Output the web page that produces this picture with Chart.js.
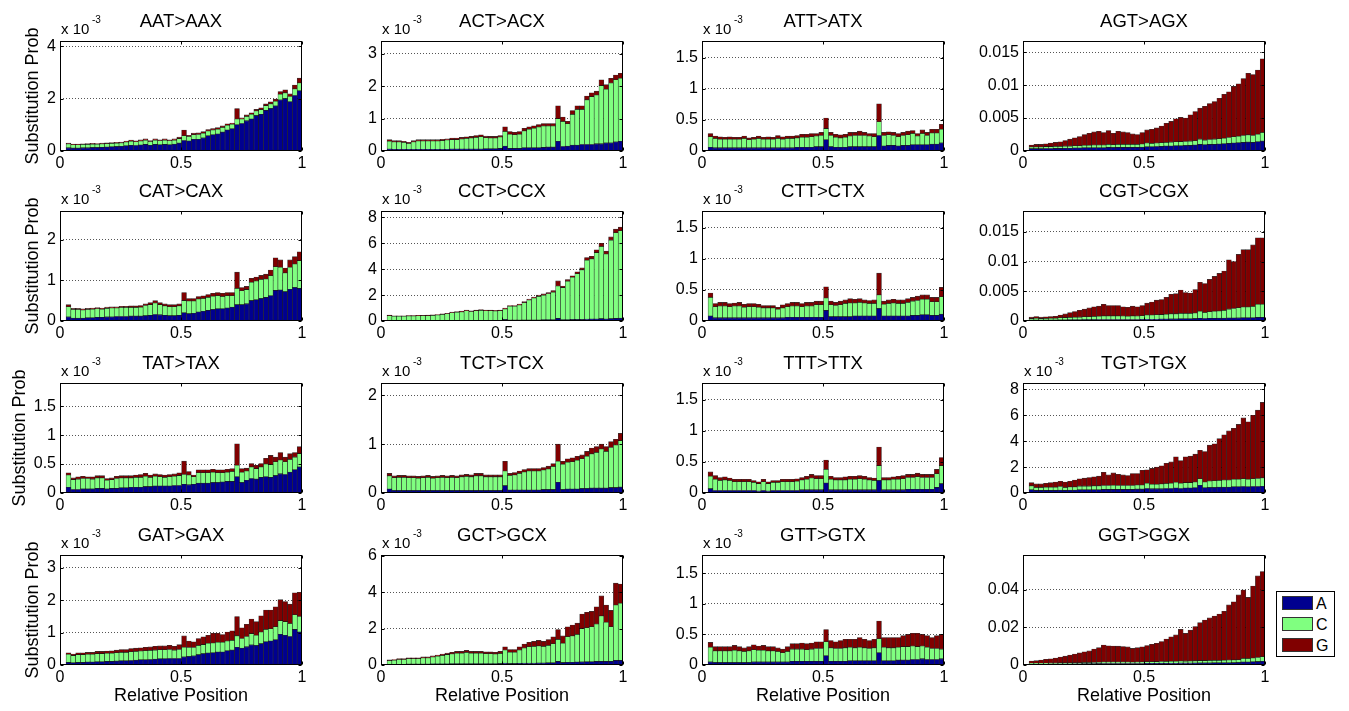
<!DOCTYPE html>
<html lang="en">
<head>
  <meta charset="UTF-8">
  <title>Substitution probability by relative position</title>
  <script src="https://cdn.jsdelivr.net/npm/chart.js"></script>
  <style>
    body { margin: 0; background: #fff; font-family: "Liberation Sans", Arial, sans-serif; color: #000; }
    #page { position: relative; width: 1349px; height: 711px; overflow: hidden; background: #fff; }
    #page canvas { position: absolute; }
    .title { position: absolute; width: 242px; text-align: center; font-size: 18.5px; line-height: 20px; white-space: nowrap; }
    .expo { position: absolute; font-size: 15px; line-height: 16px; white-space: nowrap; }
    .expo sup { position: absolute; left: 31px; top: -9px; font-size: 10px; }
    .ylab { position: absolute; width: 200px; text-align: center; font-size: 18px; line-height: 20px;
            transform: translate(-50%, -50%) rotate(-90deg); white-space: nowrap; }
    .xlab { position: absolute; width: 242px; text-align: center; font-size: 18px; line-height: 20px; }
    #legend { position: absolute; left: 1276px; top: 591px; width: 57px; height: 64px; border: 1px solid #000; background: #fff; }
    #legend div { position: absolute; left: 5px; height: 15px; font-size: 16px; line-height: 15px; }
    #legend span.sw { display: inline-block; width: 31px; height: 14px; border: 1px solid #333; vertical-align: top; margin-right: 3px; box-sizing: border-box; }
  </style>
</head>
<body>
<div id="page"></div>

<script>
// bar centres along the read (relative position), 49 bins
const positions = Array.from({ length: 49 }, (_, i) => +(0.035 + 0.0199 * i).toFixed(4));
const xTickValues = [0, 0.5, 1];
const baseLabels = ["A", "C", "G"];
const baseColors = ["#00008f", "#80ff80", "#800000"];

// values in units of 1e-3
const aatA = [0.12,0.11,0.11,0.12,0.12,0.13,0.13,0.14,0.15,0.16,0.17,0.18, 0.20,0.22,0.21,0.23,0.25,0.22,0.25,0.24,0.25,0.24,0.26,0.30, 0.40, 0.38,0.45,0.45,0.50,0.58,0.62,0.65,0.72,0.80,0.85, 1.00, 1.05,1.15,1.22,1.35,1.40,1.55,1.62,1.72,1.95,2.00,1.88,2.12,2.30];
const aatC = [0.15,0.13,0.13,0.13,0.13,0.13,0.13,0.13,0.13,0.13,0.13,0.13, 0.14,0.15,0.14,0.15,0.16,0.14,0.16,0.15,0.16,0.15,0.15,0.17, 0.18, 0.17,0.17,0.18,0.18,0.18,0.18,0.18,0.18,0.18,0.17, 0.22, 0.17,0.17,0.18,0.18,0.18,0.18,0.18,0.18,0.22,0.22,0.20,0.25,0.30];
const aatG = [0.03,0.02,0.02,0.02,0.03,0.03,0.02,0.03,0.03,0.03,0.03,0.03, 0.04,0.05,0.04,0.05,0.05,0.04,0.05,0.04,0.05,0.04,0.05,0.06, 0.22, 0.05,0.06,0.06,0.06,0.06,0.06,0.06,0.06,0.06,0.05, 0.40, 0.05,0.06,0.06,0.06,0.07,0.07,0.08,0.08,0.10,0.12,0.10,0.15,0.18];

const actA = [0.06,0.05,0.05,0.05,0.05,0.05,0.05,0.05,0.05,0.05,0.05,0.05, 0.05,0.06,0.06,0.06,0.06,0.06,0.06,0.06,0.07,0.07,0.07,0.08, 0.15, 0.08,0.08,0.08,0.10,0.10,0.10,0.10,0.11,0.12,0.12, 0.30, 0.14,0.15,0.18,0.18,0.20,0.20,0.20,0.22,0.22,0.25,0.25,0.28,0.30];
const actC = [0.24,0.23,0.23,0.21,0.18,0.23,0.26,0.26,0.26,0.26,0.26,0.27, 0.29,0.29,0.29,0.31,0.33,0.34,0.36,0.38,0.34,0.33,0.33,0.35, 0.45, 0.44,0.42,0.44,0.52,0.57,0.60,0.64,0.66,0.65,0.65, 0.70, 0.77,0.69,0.95,1.10,1.08,1.38,1.48,1.51,1.80,1.66,1.85,1.92,1.95];
const actG = [0.05,0.04,0.04,0.04,0.04,0.04,0.04,0.04,0.04,0.04,0.04,0.04, 0.04,0.05,0.05,0.05,0.05,0.05,0.06,0.06,0.05,0.05,0.05,0.05, 0.15, 0.08,0.08,0.08,0.08,0.08,0.08,0.08,0.08,0.08,0.08, 0.40, 0.14,0.08,0.12,0.12,0.12,0.12,0.12,0.12,0.18,0.14,0.15,0.15,0.15];

const attA = [0.06,0.05,0.05,0.05,0.05,0.05,0.05,0.05,0.05,0.05,0.05,0.05, 0.05,0.05,0.05,0.05,0.05,0.05,0.06,0.06,0.06,0.06,0.07,0.07, 0.18, 0.07,0.06,0.06,0.06,0.07,0.07,0.07,0.07,0.07,0.07, 0.25, 0.08,0.09,0.09,0.08,0.09,0.09,0.10,0.10,0.10,0.10,0.11,0.11,0.13];
const attC = [0.17,0.15,0.14,0.14,0.14,0.14,0.14,0.15,0.13,0.14,0.15,0.14, 0.14,0.14,0.15,0.14,0.15,0.15,0.15,0.16,0.16,0.17,0.17,0.18, 0.18, 0.18,0.16,0.15,0.16,0.17,0.18,0.18,0.18,0.17,0.16, 0.22, 0.17,0.17,0.16,0.15,0.16,0.17,0.18,0.14,0.18,0.15,0.18,0.18,0.22];
const attG = [0.05,0.04,0.04,0.03,0.04,0.03,0.03,0.04,0.03,0.03,0.04,0.03, 0.04,0.03,0.05,0.04,0.04,0.04,0.04,0.05,0.05,0.05,0.04,0.05, 0.17, 0.05,0.05,0.05,0.05,0.06,0.05,0.07,0.05,0.04,0.05, 0.29, 0.05,0.05,0.05,0.05,0.05,0.06,0.05,0.04,0.06,0.05,0.06,0.06,0.08];

const agtA = [0.35,0.35,0.35,0.38,0.38,0.40,0.40,0.42,0.42,0.45,0.45,0.48, 0.48,0.50,0.50,0.50,0.55,0.52,0.55,0.55,0.55,0.55,0.55,0.58, 0.65, 0.65,0.68,0.70,0.75,0.75,0.80,0.80,0.82,0.85,0.90, 1.00, 0.95,1.00,1.00,1.05,1.10,1.15,1.20,1.25,1.30,1.35,1.30,1.40,1.50];
const agtC = [0.25,0.25,0.25,0.28,0.28,0.30,0.30,0.32,0.32,0.35,0.35,0.38, 0.38,0.40,0.40,0.40,0.45,0.42,0.45,0.45,0.45,0.45,0.45,0.48, 0.55, 0.50,0.52,0.55,0.55,0.60,0.60,0.62,0.62,0.65,0.65, 0.80, 0.70,0.75,0.80,0.80,0.85,0.90,0.95,1.00,1.05,1.10,1.05,1.15,1.30];
const agtG = [0.30,0.40,0.40,0.44,0.54,0.60,0.70,0.86,1.06,1.20,1.40,1.64, 1.84,2.00,2.10,1.90,2.10,1.76,2.00,1.90,1.80,1.60,1.50,1.74, 2.00, 2.15,2.30,2.55,2.90,3.15,3.50,3.68,3.56,4.00,4.45, 4.70, 5.15,5.45,5.70,6.15,6.65,6.95,7.65,7.95,8.65,9.35,9.25,9.75,11.20];

const catA = [0.10,0.07,0.07,0.07,0.08,0.08,0.09,0.09,0.10,0.10,0.11,0.11, 0.11,0.12,0.12,0.12,0.13,0.14,0.16,0.15,0.14,0.13,0.13,0.14, 0.20, 0.18,0.19,0.22,0.24,0.26,0.28,0.30,0.30,0.32,0.34, 0.40, 0.40,0.42,0.50,0.52,0.55,0.58,0.62,0.75,0.76,0.72,0.78,0.82,0.80];
const catC = [0.25,0.21,0.21,0.20,0.20,0.21,0.21,0.20,0.21,0.22,0.21,0.22, 0.22,0.21,0.21,0.22,0.25,0.26,0.28,0.25,0.23,0.22,0.22,0.23, 0.30, 0.31,0.30,0.32,0.31,0.32,0.33,0.32,0.30,0.30,0.28, 0.40, 0.34,0.35,0.45,0.46,0.47,0.45,0.49,0.58,0.56,0.46,0.54,0.58,0.68];
const catG = [0.05,0.03,0.03,0.03,0.03,0.03,0.03,0.03,0.03,0.03,0.03,0.03, 0.03,0.04,0.04,0.04,0.04,0.05,0.06,0.05,0.05,0.05,0.05,0.05, 0.20, 0.06,0.06,0.06,0.07,0.07,0.07,0.08,0.08,0.08,0.08, 0.40, 0.08,0.08,0.10,0.10,0.10,0.12,0.14,0.22,0.18,0.12,0.18,0.18,0.22];

const cctA = [0.05,0.04,0.04,0.04,0.04,0.04,0.04,0.04,0.04,0.04,0.05,0.05, 0.05,0.05,0.05,0.05,0.06,0.05,0.05,0.06,0.06,0.06,0.06,0.06, 0.12, 0.07,0.07,0.07,0.08,0.08,0.08,0.08,0.09,0.09,0.10, 0.20, 0.10,0.10,0.12,0.12,0.12,0.14,0.15,0.15,0.18,0.15,0.18,0.20,0.22];
const cctC = [0.36,0.33,0.33,0.33,0.35,0.35,0.36,0.37,0.37,0.39,0.41,0.46, 0.51,0.58,0.62,0.65,0.73,0.68,0.75,0.76,0.73,0.74,0.71,0.74, 0.80, 1.07,1.07,1.16,1.34,1.54,1.69,1.82,1.91,2.01,2.13, 2.50, 2.48,2.98,3.26,3.53,3.83,4.56,4.65,5.13,5.57,5.03,6.07,6.62,6.75];
const cctG = [0.04,0.03,0.03,0.03,0.03,0.03,0.03,0.03,0.04,0.04,0.04,0.04, 0.04,0.05,0.05,0.06,0.06,0.05,0.05,0.06,0.06,0.05,0.05,0.05, 0.08, 0.06,0.06,0.07,0.08,0.08,0.08,0.10,0.10,0.10,0.12, 0.40, 0.12,0.12,0.12,0.15,0.15,0.20,0.20,0.22,0.25,0.22,0.25,0.28,0.28];

const cttA = [0.08,0.05,0.05,0.05,0.05,0.05,0.05,0.05,0.05,0.05,0.05,0.05, 0.05,0.05,0.05,0.05,0.06,0.06,0.06,0.06,0.06,0.06,0.06,0.06, 0.17, 0.07,0.07,0.07,0.07,0.07,0.08,0.08,0.08,0.08,0.08, 0.20, 0.08,0.08,0.08,0.08,0.08,0.08,0.09,0.09,0.10,0.10,0.09,0.09,0.11];
const cttC = [0.30,0.18,0.19,0.19,0.18,0.19,0.19,0.17,0.18,0.18,0.17,0.16, 0.16,0.16,0.14,0.16,0.17,0.18,0.18,0.17,0.18,0.18,0.20,0.20, 0.20, 0.19,0.18,0.19,0.21,0.22,0.21,0.22,0.21,0.20,0.20, 0.22, 0.19,0.20,0.21,0.20,0.20,0.22,0.23,0.24,0.25,0.25,0.22,0.22,0.28];
const cttG = [0.07,0.05,0.06,0.06,0.05,0.05,0.06,0.05,0.05,0.05,0.05,0.04, 0.04,0.04,0.03,0.05,0.05,0.06,0.06,0.05,0.06,0.06,0.06,0.06, 0.18, 0.06,0.05,0.06,0.06,0.07,0.06,0.06,0.05,0.05,0.06, 0.35, 0.05,0.06,0.06,0.06,0.06,0.06,0.06,0.07,0.07,0.07,0.07,0.07,0.15];

const cgtA = [0.15,0.15,0.15,0.15,0.15,0.15,0.18,0.18,0.20,0.20,0.20,0.22, 0.22,0.22,0.25,0.25,0.25,0.25,0.25,0.25,0.25,0.25,0.25,0.28, 0.30, 0.30,0.30,0.32,0.32,0.35,0.35,0.38,0.38,0.38,0.40, 0.45, 0.42,0.45,0.45,0.48,0.48,0.50,0.50,0.52,0.55,0.55,0.55,0.60,0.60];
const cgtC = [0.25,0.30,0.25,0.28,0.30,0.30,0.35,0.38,0.40,0.42,0.45,0.48, 0.50,0.55,0.55,0.60,0.60,0.60,0.60,0.58,0.55,0.60,0.58,0.60, 0.70, 0.70,0.75,0.75,0.80,0.85,0.85,0.90,0.90,0.90,0.95, 1.20, 1.00,1.10,1.20,1.20,1.30,1.50,1.60,1.70,1.80,1.80,1.90,2.20,2.20];
const cgtG = [0.25,0.30,0.25,0.27,0.30,0.35,0.47,0.64,0.80,0.98,1.15,1.30, 1.48,1.63,1.70,1.95,1.75,1.75,1.75,1.57,1.50,1.65,1.57,1.72, 2.00, 2.20,2.45,2.53,2.88,3.30,3.40,3.92,3.52,3.42,3.95, 4.85, 4.88,5.45,5.85,6.32,6.62,8.30,7.90,8.98,9.65,9.65,10.35,11.20,11.20];

const tatA = [0.10,0.06,0.06,0.07,0.07,0.07,0.08,0.08,0.07,0.08,0.08,0.09, 0.09,0.10,0.10,0.10,0.11,0.11,0.12,0.12,0.12,0.12,0.13,0.13, 0.15, 0.14,0.15,0.17,0.17,0.17,0.18,0.18,0.19,0.20,0.20, 0.28, 0.18,0.22,0.25,0.24,0.27,0.28,0.27,0.30,0.33,0.32,0.36,0.40,0.45];
const tatC = [0.21,0.17,0.18,0.18,0.18,0.17,0.18,0.18,0.15,0.15,0.17,0.17, 0.17,0.16,0.17,0.17,0.18,0.16,0.17,0.16,0.15,0.16,0.16,0.17, 0.17, 0.17,0.13,0.18,0.18,0.18,0.18,0.17,0.16,0.16,0.17, 0.20, 0.18,0.16,0.20,0.18,0.18,0.22,0.22,0.24,0.24,0.22,0.22,0.22,0.23];
const tatG = [0.04,0.03,0.04,0.04,0.03,0.04,0.04,0.04,0.03,0.03,0.04,0.04, 0.04,0.04,0.04,0.05,0.05,0.04,0.04,0.04,0.04,0.04,0.04,0.05, 0.23, 0.06,0.03,0.05,0.05,0.05,0.05,0.05,0.05,0.05,0.05, 0.37, 0.06,0.05,0.06,0.06,0.06,0.10,0.16,0.08,0.13,0.08,0.10,0.08,0.12];

const tctA = [0.08,0.05,0.05,0.05,0.05,0.05,0.05,0.05,0.05,0.05,0.05,0.05, 0.05,0.05,0.05,0.05,0.05,0.05,0.05,0.05,0.05,0.05,0.05,0.05, 0.15, 0.06,0.06,0.06,0.06,0.06,0.06,0.06,0.07,0.07,0.07, 0.22, 0.07,0.08,0.08,0.08,0.09,0.09,0.10,0.10,0.10,0.10,0.11,0.11,0.12];
const tctC = [0.27,0.26,0.27,0.27,0.26,0.26,0.25,0.26,0.27,0.25,0.26,0.27, 0.26,0.27,0.26,0.28,0.29,0.28,0.30,0.30,0.28,0.28,0.28,0.28, 0.30, 0.30,0.31,0.34,0.37,0.39,0.39,0.39,0.40,0.42,0.47, 0.43, 0.52,0.55,0.56,0.59,0.61,0.66,0.70,0.73,0.80,0.75,0.82,0.87,0.95];
const tctG = [0.05,0.04,0.04,0.04,0.04,0.04,0.04,0.04,0.04,0.04,0.04,0.04, 0.04,0.04,0.04,0.04,0.04,0.04,0.05,0.05,0.04,0.04,0.04,0.04, 0.20, 0.04,0.05,0.05,0.05,0.05,0.05,0.05,0.05,0.06,0.06, 0.35, 0.06,0.07,0.08,0.08,0.08,0.10,0.12,0.12,0.10,0.10,0.12,0.12,0.15];

const tttA = [0.07,0.04,0.04,0.04,0.04,0.04,0.04,0.04,0.04,0.04,0.03,0.04, 0.03,0.04,0.04,0.04,0.04,0.04,0.04,0.05,0.05,0.05,0.05,0.05, 0.16, 0.05,0.05,0.05,0.05,0.05,0.05,0.05,0.05,0.05,0.05, 0.20, 0.05,0.05,0.05,0.05,0.05,0.06,0.06,0.06,0.06,0.06,0.06,0.09,0.15];
const tttC = [0.20,0.18,0.16,0.17,0.16,0.14,0.14,0.14,0.14,0.13,0.12,0.14, 0.12,0.13,0.13,0.14,0.14,0.14,0.15,0.16,0.17,0.19,0.18,0.18, 0.22, 0.17,0.16,0.16,0.16,0.17,0.17,0.18,0.17,0.16,0.15, 0.24, 0.16,0.16,0.17,0.17,0.18,0.19,0.19,0.20,0.19,0.19,0.19,0.22,0.29];
const tttG = [0.07,0.06,0.05,0.05,0.04,0.04,0.04,0.04,0.04,0.03,0.03,0.04, 0.03,0.03,0.03,0.04,0.04,0.04,0.04,0.04,0.05,0.06,0.05,0.05, 0.15, 0.05,0.04,0.04,0.05,0.05,0.05,0.05,0.05,0.04,0.04, 0.30, 0.04,0.04,0.04,0.05,0.05,0.05,0.05,0.06,0.05,0.05,0.05,0.07,0.13];

const tgtA = [0.25,0.20,0.20,0.20,0.20,0.20,0.22,0.20,0.22,0.22,0.25,0.25, 0.25,0.25,0.25,0.28,0.28,0.28,0.28,0.28,0.28,0.28,0.30,0.30, 0.35, 0.32,0.32,0.32,0.35,0.35,0.38,0.35,0.38,0.38,0.40, 0.60, 0.40,0.42,0.42,0.45,0.45,0.45,0.48,0.48,0.50,0.48,0.50,0.50,0.52];
const tgtC = [0.30,0.22,0.22,0.25,0.25,0.25,0.28,0.22,0.25,0.25,0.28,0.28, 0.28,0.30,0.30,0.30,0.30,0.32,0.30,0.30,0.30,0.30,0.32,0.32, 0.40, 0.35,0.35,0.38,0.38,0.40,0.45,0.40,0.42,0.42,0.45, 0.50, 0.45,0.50,0.52,0.52,0.55,0.55,0.58,0.58,0.60,0.58,0.60,0.62,0.65];
const tgtG = [0.25,0.28,0.28,0.30,0.35,0.40,0.40,0.43,0.43,0.53,0.57,0.62, 0.67,0.70,0.75,1.02,0.82,0.95,0.87,0.82,0.77,0.92,0.88,1.13, 1.05, 1.23,1.33,1.40,1.57,1.65,1.97,1.75,2.00,2.05,2.15, 2.20, 2.35,2.78,2.86,3.23,3.50,3.80,3.94,4.24,4.70,4.44,4.90,5.28,5.83];

const gatA = [0.08,0.07,0.08,0.08,0.09,0.09,0.10,0.10,0.11,0.11,0.12,0.13, 0.13,0.14,0.15,0.16,0.16,0.17,0.18,0.19,0.19,0.20,0.20,0.20, 0.25, 0.26,0.28,0.32,0.35,0.37,0.38,0.40,0.40,0.44,0.46, 0.55, 0.52,0.56,0.62,0.60,0.66,0.72,0.74,0.78,0.95,0.92,0.88,1.10,1.02];
const gatC = [0.25,0.22,0.24,0.24,0.24,0.24,0.25,0.25,0.25,0.25,0.26,0.26, 0.26,0.27,0.27,0.27,0.28,0.28,0.28,0.28,0.28,0.28,0.26,0.28, 0.30, 0.28,0.26,0.28,0.28,0.30,0.30,0.30,0.30,0.30,0.30, 0.35, 0.30,0.32,0.35,0.32,0.36,0.38,0.38,0.40,0.42,0.42,0.40,0.45,0.48];
const gatG = [0.05,0.05,0.06,0.06,0.06,0.06,0.07,0.07,0.07,0.08,0.08,0.09, 0.09,0.10,0.10,0.10,0.11,0.11,0.12,0.12,0.12,0.13,0.12,0.15, 0.35, 0.20,0.18,0.22,0.24,0.25,0.30,0.28,0.24,0.28,0.30, 0.60, 0.33,0.38,0.45,0.42,0.50,0.60,0.58,0.62,0.65,0.62,0.60,0.68,0.75];

const gctA = [0.04,0.04,0.04,0.04,0.05,0.05,0.05,0.05,0.05,0.06,0.06,0.06, 0.06,0.07,0.07,0.07,0.07,0.07,0.07,0.07,0.07,0.07,0.07,0.08, 0.10, 0.08,0.08,0.09,0.10,0.10,0.10,0.11,0.11,0.12,0.12, 0.20, 0.13,0.15,0.15,0.16,0.17,0.18,0.18,0.20,0.20,0.20,0.20,0.25,0.25];
const gctC = [0.20,0.22,0.26,0.26,0.30,0.30,0.30,0.34,0.34,0.38,0.42,0.46, 0.51,0.54,0.58,0.58,0.62,0.58,0.58,0.58,0.55,0.55,0.53,0.55, 0.72, 0.62,0.62,0.73,0.83,0.90,0.92,0.94,0.91,0.96,1.05, 1.20, 1.07,1.40,1.45,1.52,1.83,1.87,1.92,2.05,2.50,2.15,1.90,3.05,3.15];
const gctG = [0.04,0.04,0.05,0.05,0.05,0.05,0.05,0.06,0.06,0.06,0.07,0.08, 0.08,0.09,0.10,0.10,0.11,0.10,0.10,0.10,0.10,0.10,0.10,0.12, 0.18, 0.15,0.15,0.18,0.22,0.25,0.28,0.30,0.28,0.32,0.38, 0.55, 0.40,0.55,0.60,0.62,0.80,0.85,0.85,0.95,1.10,0.95,0.90,1.20,1.05];

const gttA = [0.05,0.04,0.04,0.04,0.04,0.04,0.04,0.04,0.04,0.05,0.05,0.05, 0.05,0.05,0.05,0.05,0.05,0.06,0.06,0.06,0.06,0.06,0.06,0.06, 0.15, 0.06,0.06,0.06,0.06,0.07,0.07,0.07,0.07,0.07,0.07, 0.20, 0.07,0.07,0.07,0.08,0.08,0.08,0.09,0.09,0.10,0.09,0.09,0.09,0.10];
const gttC = [0.24,0.19,0.19,0.19,0.19,0.20,0.19,0.18,0.19,0.20,0.19,0.19, 0.18,0.18,0.17,0.15,0.17,0.20,0.20,0.20,0.19,0.20,0.21,0.21, 0.23, 0.22,0.21,0.21,0.22,0.22,0.21,0.22,0.21,0.20,0.21, 0.23, 0.22,0.21,0.21,0.21,0.22,0.22,0.22,0.21,0.21,0.20,0.18,0.18,0.16];
const gttG = [0.08,0.07,0.07,0.07,0.07,0.08,0.07,0.06,0.07,0.08,0.07,0.08, 0.07,0.07,0.06,0.06,0.08,0.09,0.09,0.10,0.10,0.10,0.11,0.11, 0.20, 0.12,0.11,0.13,0.14,0.13,0.14,0.16,0.14,0.13,0.14, 0.29, 0.16,0.17,0.17,0.16,0.18,0.20,0.21,0.22,0.19,0.19,0.18,0.21,0.24];

const ggtA = [0.50,0.50,0.50,0.50,0.55,0.55,0.60,0.60,0.60,0.65,0.65,0.70, 0.70,0.70,0.75,0.80,0.80,0.80,0.80,0.80,0.80,0.80,0.80,0.80, 0.85, 0.85,0.85,0.90,0.90,0.95,0.95,1.00,1.00,1.00,1.05, 1.10, 1.10,1.10,1.15,1.15,1.20,1.20,1.25,1.30,1.60,1.60,1.70,1.80,2.00];
const ggtC = [0.40,0.40,0.40,0.45,0.45,0.45,0.50,0.50,0.50,0.55,0.55,0.60, 0.60,0.65,0.70,0.75,0.75,0.75,0.75,0.75,0.75,0.70,0.75,0.80, 0.85, 0.85,0.90,0.95,1.00,1.00,1.05,1.10,1.05,1.10,1.15, 1.20, 1.20,1.25,1.30,1.30,1.35,1.40,1.45,1.50,1.90,1.80,2.00,2.20,2.40];
const ggtG = [1.20,1.40,1.70,2.05,2.30,2.70,3.10,3.60,4.20,4.60,5.20,5.70, 6.20,7.15,7.75,9.05,8.65,8.55,8.45,8.25,8.05,7.30,7.65,8.10, 8.60, 9.30,9.75,10.65,11.90,13.05,14.00,16.80,14.75,16.40,18.20, 20.20, 21.60,22.65,23.55,24.65,25.95,29.30,30.90,34.40,36.30,32.50,38.20,43.30,45.20];

// panels in reading order (4 x 4)
const panelTitles = ["AAT>AAX", "ACT>ACX", "ATT>ATX", "AGT>AGX",
                     "CAT>CAX", "CCT>CCX", "CTT>CTX", "CGT>CGX",
                     "TAT>TAX", "TCT>TCX", "TTT>TTX", "TGT>TGX",
                     "GAT>GAX", "GCT>GCX", "GTT>GTX", "GGT>GGX"];
const seriesA = [aatA, actA, attA, agtA, catA, cctA, cttA, cgtA, tatA, tctA, tttA, tgtA, gatA, gctA, gttA, ggtA];
const seriesC = [aatC, actC, attC, agtC, catC, cctC, cttC, cgtC, tatC, tctC, tttC, tgtC, gatC, gctC, gttC, ggtC];
const seriesG = [aatG, actG, attG, agtG, catG, cctG, cttG, cgtG, tatG, tctG, tttG, tgtG, gatG, gctG, gttG, ggtG];
const yMaxima = [4.2, 3.4, 1.77, 16.7,
                 2.7, 8.5, 1.77, 18.5,
                 1.9, 2.25, 1.77, 8.5,
                 3.4, 6.05, 1.8, 58.4];
const yTickValues = [[0, 2, 4], [0, 1, 2, 3], [0, 0.5, 1, 1.5], [0, 5, 10, 15],
                     [0, 1, 2], [0, 2, 4, 6, 8], [0, 0.5, 1, 1.5], [0, 5, 10, 15],
                     [0, 0.5, 1, 1.5], [0, 1, 2], [0, 0.5, 1, 1.5], [0, 2, 4, 6, 8],
                     [0, 1, 2, 3], [0, 2, 4, 6], [0, 0.5, 1, 1.5], [0, 20, 40]];
// panels whose ticks carry the "x 10^-3" multiplier
const showMultiplier = [true, true, true, false,
                        true, true, true, false,
                        true, true, true, true,
                        true, true, true, false];

// layout
const colLeft = [60, 381, 702, 1023];
const rowTop = [41, 211, 383, 555];
const yLabelX = [32, 32, 19, 32];   // row 3 has wider tick labels, so its label sits further left
const plotW = 242, plotH = 110;
const padL = 50, padT = 14, padR = 12, padB = 26;
const tickFont = { family: '"Liberation Sans", Arial, sans-serif', size: 16 };

const page = document.getElementById("page");

const framePlugin = {
  id: "frame",
  afterDatasetsDraw(chart) {
    const { ctx, chartArea: area, scales } = chart;
    const L = Math.round(area.left) + 0.5, T = Math.round(area.top) + 0.5;
    const R = Math.round(area.right) - 0.5, B = Math.round(area.bottom) - 0.5;
    ctx.save();
    ctx.strokeStyle = "#000";
    ctx.lineWidth = 1;
    ctx.strokeRect(L, T, R - L, B - T);
    ctx.beginPath();
    scales.x.ticks.forEach(t => {
      const px = Math.round(scales.x.getPixelForValue(t.value)) + 0.5;
      ctx.moveTo(px, B); ctx.lineTo(px, B - 3);
      ctx.moveTo(px, T); ctx.lineTo(px, T + 3);
    });
    scales.y.ticks.forEach(t => {
      const py = Math.round(scales.y.getPixelForValue(t.value)) + 0.5;
      ctx.moveTo(L, py); ctx.lineTo(L + 3, py);
      ctx.moveTo(R, py); ctx.lineTo(R - 3, py);
    });
    ctx.stroke();
    ctx.restore();
  }
};

function addText(cls, html, left, top) {
  const el = document.createElement("div");
  el.className = cls;
  el.innerHTML = html;
  el.style.left = left + "px";
  el.style.top = top + "px";
  page.appendChild(el);
  return el;
}

panelTitles.forEach((title, k) => {
  const c = k % 4, r = Math.floor(k / 4);
  const x0 = colLeft[c], y0 = rowTop[r];

  const canvas = document.createElement("canvas");
  canvas.width = padL + plotW + padR;
  canvas.height = padT + plotH + padB;
  canvas.style.left = (x0 - padL) + "px";
  canvas.style.top = (y0 - padT) + "px";
  page.appendChild(canvas);

  addText("title", title.replace(">", "&gt;"), x0, y0 - 30);
  if (showMultiplier[k]) addText("expo", "x 10<sup>-3</sup>", x0 + 1, y0 - 20);
  if (c === 0) addText("ylab", "Substitution Prob", yLabelX[r], y0 + plotH / 2);
  if (r === 3) addText("xlab", "Relative Position", x0, y0 + plotH + 20);

  const multiplied = showMultiplier[k];
  const barStyle = { barPercentage: 1, categoryPercentage: 1, borderWidth: 0.6,
                     borderColor: "rgba(0,0,0,0.8)", borderSkipped: false };

  new Chart(canvas, {
    type: "bar",
    data: {
      labels: positions,
      datasets: [seriesA[k], seriesC[k], seriesG[k]].map((vals, j) => Object.assign({
        label: baseLabels[j],
        data: vals,
        backgroundColor: baseColors[j]
      }, barStyle))
    },
    options: {
      responsive: false,
      animation: false,
      layout: { padding: { top: padT, right: padR, left: 0, bottom: 0 } },
      plugins: { legend: { display: false }, tooltip: { enabled: false } },
      scales: {
        x: {
          type: "linear", stacked: true, offset: false, bounds: "data",
          min: 0, max: 1,
          grid: { display: false, drawTicks: false },
          border: { display: false },
          afterBuildTicks: s => { s.ticks = xTickValues.map(v => ({ value: v })); },
          ticks: { padding: 3, color: "#000", font: tickFont, maxRotation: 0, autoSkip: false,
                   callback: v => String(v) },
          afterFit: s => { s.height = padB; }
        },
        y: {
          stacked: true, bounds: "data",
          min: 0, max: yMaxima[k],
          grid: { color: ctx => (ctx.tick && ctx.tick.value === 0) ? "rgba(0,0,0,0)" : "#555",
                  lineWidth: 1, drawTicks: false },
          border: { display: false, dash: [1, 2] },
          afterBuildTicks: s => { s.ticks = yTickValues[k].map(v => ({ value: v })); },
          ticks: { padding: 4, color: "#000", font: tickFont, autoSkip: false,
                   callback: v => multiplied ? String(+v.toFixed(3)) : String(+(v / 1000).toFixed(4)) },
          afterFit: s => { s.width = padL; }
        }
      }
    },
    plugins: [framePlugin]
  });
});

// legend of the last panel
const legend = document.createElement("div");
legend.id = "legend";
baseLabels.forEach((lab, j) => {
  const row = document.createElement("div");
  row.style.top = (4 + j * 21) + "px";
  row.innerHTML = '<span class="sw" style="background:' + baseColors[j] + '"></span>' + lab;
  legend.appendChild(row);
});
page.appendChild(legend);
</script>
</body>
</html>
